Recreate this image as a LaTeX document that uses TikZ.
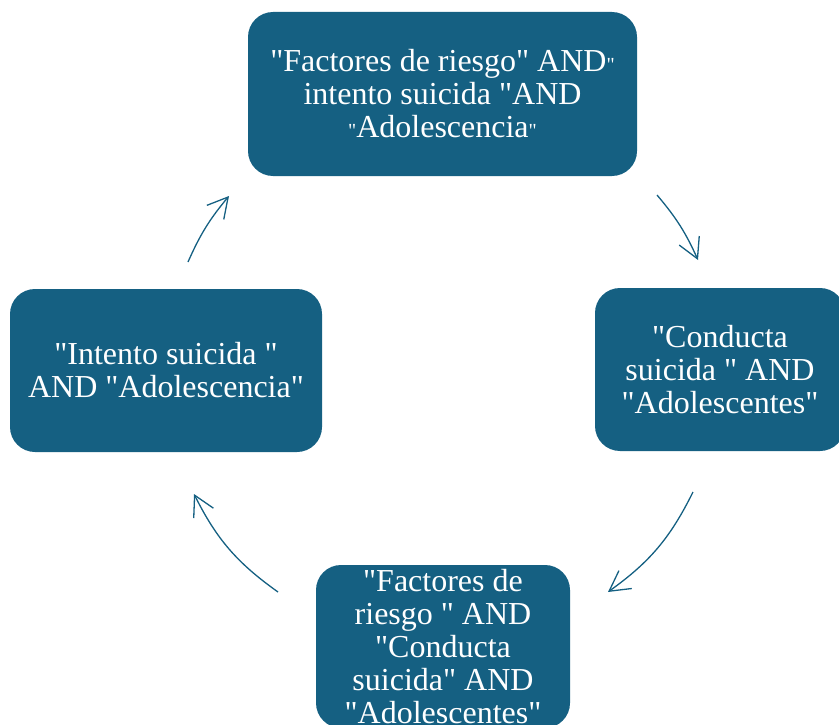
\documentclass[tikz,border=0pt]{standalone}
\usepackage{fontspec}
\setmainfont{Liberation Serif}[Ligatures=TeXOff]
\usetikzlibrary{arrows.meta}
\definecolor{qblue}{HTML}{156082}
\newcommand{\sq}{{\fontsize{20}{20}\selectfont"}}

\begin{document}
\begin{tikzpicture}[x=1pt,y=-1pt,
  qbox/.style={rectangle, rounded corners=25pt, fill=qblue, text=white, align=center,
    inner sep=0pt, font=\fontsize{32}{33}\selectfont},
  qarr/.style={draw=qblue, line width=1.3pt, -{Straight Barb[length=20pt,width=22pt]}}]
\useasboundingbox (0,0) rectangle (839,725);
\clip (0,0) rectangle (839,725);
% search strings
\node[qbox, minimum width=389pt, minimum height=164pt] (q0) at (442.5,94)
  {"Factores de riesgo" AND\sq\\intento suicida "AND\\\sq Adolescencia\sq};
\node[qbox, minimum width=250pt, minimum height=163pt] (q1) at (720,369.5)
  {"Conducta\\suicida " AND\\"Adolescentes"};
\node[qbox, minimum width=254pt, minimum height=163pt] (q2) at (443,646.5)
  {"Factores de\\riesgo " AND\\"Conducta\\suicida" AND\\"Adolescentes"};
\node[qbox, minimum width=312pt, minimum height=163pt] (q3) at (166,370.5)
  {"Intento suicida "\\AND "Adolescencia"};
% arrow ends
\coordinate (a0) at (657,195);
\coordinate (a1) at (698,260);
\coordinate (b0) at (693,492);
\coordinate (b1) at (608,592);
\coordinate (c0) at (278,592);
\coordinate (c1) at (194,494);
\coordinate (d0) at (188,262);
\coordinate (d1) at (229,196);
\draw[qarr] (a0) to[bend left=8] (a1);
\draw[qarr] (b0) to[bend left=14] (b1);
\draw[qarr] (c0) to[bend left=14] (c1);
\draw[qarr] (d0) to[bend left=8] (d1);
\end{tikzpicture}
\end{document}
